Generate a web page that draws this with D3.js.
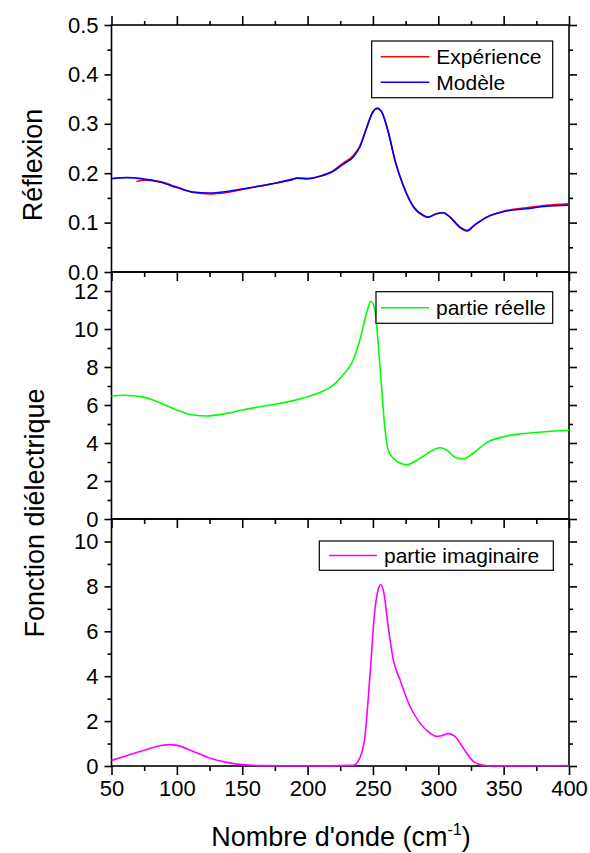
<!DOCTYPE html>
<html>
<head>
<meta charset="utf-8">
<script src="https://cdn.jsdelivr.net/npm/d3@7"></script>
<style>
  html, body { margin: 0; padding: 0; background: #fff; }
  svg { display: block; font-family: "Liberation Sans", Arial, sans-serif; }
</style>
</head>
<body>
<svg id="chart" width="590" height="853"></svg>
<script>
// Reflectivity: fitted model (cm^-1, R)
const reflModelWave = [50, 61.5, 75, 87, 100, 112.5, 125, 138, 150, 163.5, 176, 189, 191.6, 200, 209.5, 219.6, 227, 235, 240, 245, 250, 253.3, 256.6, 262, 266.8, 273, 281, 288.5, 292, 298.7, 303.8, 309, 316.6, 322, 327.6, 337, 349.7, 367.6, 383, 399.5];
const reflModel = [0.189, 0.191, 0.188, 0.182, 0.171, 0.162, 0.160, 0.163, 0.168, 0.174, 0.180, 0.188, 0.190, 0.189, 0.194, 0.204, 0.218, 0.233, 0.253, 0.290, 0.324, 0.331, 0.324, 0.280, 0.226, 0.176, 0.132, 0.115, 0.111, 0.118, 0.120, 0.111, 0.091, 0.084, 0.095, 0.111, 0.122, 0.128, 0.133, 0.135];

// Reflectivity: measured spectrum
const reflExpWave = [69, 75, 87, 100, 112.5, 125, 138, 150, 163.5, 176, 189, 191.6, 200, 209.5, 219.6, 227, 235, 240, 245, 250, 253.3, 256.6, 262, 266.8, 273, 281, 288.5, 292, 298.7, 303.8, 309, 316.6, 322, 327.6, 337, 349.7, 367.6, 383, 399.5];
const reflExp = [0.183, 0.186, 0.183, 0.172, 0.161, 0.158, 0.161, 0.167, 0.174, 0.180, 0.188, 0.190, 0.189, 0.194, 0.205, 0.220, 0.236, 0.255, 0.291, 0.325, 0.332, 0.325, 0.282, 0.228, 0.177, 0.132, 0.114, 0.111, 0.118, 0.120, 0.111, 0.090, 0.083, 0.094, 0.111, 0.123, 0.130, 0.135, 0.138];

// Dielectric function, real part
const epsRealWave = [50, 59, 75, 87, 100, 112.5, 122.7, 138, 150, 163.5, 176, 189, 200, 212, 219.6, 227, 233.7, 240, 245, 248.5, 251.5, 254, 256.6, 259, 261.7, 265.6, 275.8, 286, 293.6, 301.3, 306.4, 312.8, 319, 326.8, 337, 349.7, 367.6, 383, 400];
const epsReal = [6.47, 6.51, 6.40, 6.12, 5.74, 5.47, 5.42, 5.56, 5.74, 5.91, 6.05, 6.23, 6.44, 6.74, 7.05, 7.58, 8.19, 9.42, 10.8, 11.46, 11.0, 9.25, 6.96, 4.86, 3.63, 3.19, 2.86, 3.19, 3.54, 3.75, 3.63, 3.25, 3.16, 3.46, 4.02, 4.33, 4.51, 4.60, 4.67];

// Dielectric function, imaginary part
const epsImagWave = [50, 61.5, 75, 87, 94.6, 100, 112.5, 125, 138, 150, 163.5, 200, 235, 240, 243.9, 247.7, 251.5, 254, 256, 258.4, 261.7, 265.6, 270.7, 278.3, 286, 293.6, 298.7, 302.6, 307.7, 312.8, 319, 326.8, 334.4, 342, 400];
const epsImag = [0.25, 0.46, 0.70, 0.90, 0.95, 0.92, 0.65, 0.36, 0.16, 0.06, 0.015, 0.0, 0.03, 0.36, 1.32, 4.0, 6.96, 7.85, 8.07, 7.7, 6.2, 4.73, 3.84, 2.66, 1.91, 1.47, 1.32, 1.35, 1.44, 1.32, 0.8, 0.21, 0.03, 0.0, 0.02];

// Axis ticks
const xMajor = [50, 100, 150, 200, 250, 300, 350, 400];
const xMinor = [75, 125, 175, 225, 275, 325, 375];
const reflMajor = [0, 0.1, 0.2, 0.3, 0.4, 0.5];
const reflMinor = [0.05, 0.15, 0.25, 0.35, 0.45];
const realMajor = [0, 2, 4, 6, 8, 10, 12];
const realMinor = [1, 3, 5, 7, 9, 11];
const imagMajor = [0, 2, 4, 6, 8, 10];
const imagMinor = [1, 3, 5, 7, 9];

const svg = d3.select("#chart");
svg.append("rect").attr("width", 590).attr("height", 853).attr("fill", "#fff");

const left = 111.5, right = 569;
const x = d3.scaleLinear().domain([50, 400]).range([left, right]);

const panels = [
  { top: 25, bottom: 272, domain: [0, 0.5], major: reflMajor, minor: reflMinor, fmt: d3.format(".1f"), topTicks: true },
  { top: 272, bottom: 519, domain: [0, 13], major: realMajor, minor: realMinor, fmt: d3.format("d") },
  { top: 519, bottom: 766, domain: [0, 11], major: imagMajor, minor: imagMinor, fmt: d3.format("d"), xLabels: true }
];
panels.forEach(p => { p.y = d3.scaleLinear().domain(p.domain).range([p.bottom, p.top]); });

const tickFont = 22;

function styleAxis(g) {
  g.select(".domain").remove();
  g.selectAll(".tick line").attr("stroke", "#000").attr("stroke-width", 1.6);
  g.selectAll(".tick text").attr("fill", "#000").attr("font-size", tickFont)
    .attr("font-family", "Liberation Sans, Arial, sans-serif");
}

panels.forEach(p => {
  const g = svg.append("g");
  // left axis
  g.append("g").attr("transform", `translate(${left},0)`)
    .call(d3.axisLeft(p.y).tickValues(p.major).tickSize(7).tickPadding(6).tickFormat(p.fmt)).call(styleAxis);
  g.append("g").attr("transform", `translate(${left},0)`)
    .call(d3.axisLeft(p.y).tickValues(p.minor).tickSize(4).tickFormat("")).call(styleAxis);
  // right axis
  g.append("g").attr("transform", `translate(${right},0)`)
    .call(d3.axisRight(p.y).tickValues(p.major).tickSize(8).tickFormat("")).call(styleAxis);
  g.append("g").attr("transform", `translate(${right},0)`)
    .call(d3.axisRight(p.y).tickValues(p.minor).tickSize(4).tickFormat("")).call(styleAxis);
  // bottom axis
  g.append("g").attr("transform", `translate(0,${p.bottom})`)
    .call(d3.axisBottom(x).tickValues(xMajor).tickSize(9).tickPadding(5)
      .tickFormat(p.xLabels ? d3.format("d") : "")).call(styleAxis);
  g.append("g").attr("transform", `translate(0,${p.bottom})`)
    .call(d3.axisBottom(x).tickValues(xMinor).tickSize(5).tickFormat("")).call(styleAxis);
  if (p.topTicks) {
    g.append("g").attr("transform", `translate(0,${p.top})`)
      .call(d3.axisTop(x).tickValues(xMajor).tickSize(9).tickFormat("")).call(styleAxis);
    g.append("g").attr("transform", `translate(0,${p.top})`)
      .call(d3.axisTop(x).tickValues(xMinor).tickSize(4).tickFormat("")).call(styleAxis);
  }
  // frame
  g.append("rect").attr("x", left).attr("y", p.top)
    .attr("width", right - left).attr("height", p.bottom - p.top)
    .attr("fill", "none").attr("stroke", "#000").attr("stroke-width", 1.6);
});

// curves
function drawLine(waves, vals, yScale, color) {
  const line = d3.line().x((d, i) => x(waves[i])).y(d => yScale(d)).curve(d3.curveMonotoneX);
  svg.append("path").datum(vals).attr("d", line)
    .attr("fill", "none").attr("stroke", color).attr("stroke-width", 1.6)
    .attr("stroke-linejoin", "round");
}
drawLine(reflExpWave, reflExp, panels[0].y, "#ff0000");
drawLine(reflModelWave, reflModel, panels[0].y, "#0000ff");
drawLine(epsRealWave, epsReal, panels[1].y, "#00ff00");
drawLine(epsImagWave, epsImag, panels[2].y, "#ff00ff");

// legends
const legFont = 21;
function legend(box, items) {
  svg.append("rect").attr("x", box[0]).attr("y", box[1]).attr("width", box[2]).attr("height", box[3])
    .attr("fill", "#fff").attr("stroke", "#000").attr("stroke-width", 1.2);
  items.forEach(it => {
    svg.append("line").attr("x1", it.x1).attr("x2", it.x2).attr("y1", it.y).attr("y2", it.y)
      .attr("stroke", it.color).attr("stroke-width", 1.6);
    svg.append("text").attr("x", it.x2 + 7).attr("y", it.y).attr("dy", "0.36em")
      .attr("font-size", legFont).attr("fill", "#000").text(it.label);
  });
}
legend([371.7, 41, 181, 56.7], [
  { x1: 380.7, x2: 429.3, y: 56.7, color: "#ff0000", label: "Expérience" },
  { x1: 380.7, x2: 429.3, y: 82.3, color: "#0000ff", label: "Modèle" }
]);
legend([376, 291.7, 176.7, 31.6], [
  { x1: 381, x2: 429, y: 307.7, color: "#00ff00", label: "partie réelle" }
]);
legend([319.3, 541, 234, 29.3], [
  { x1: 329, x2: 377, y: 555.5, color: "#ff00ff", label: "partie imaginaire" }
]);

// axis titles
const titleFont = 27;
svg.append("text").attr("transform", "translate(42,165) rotate(-90)")
  .attr("text-anchor", "middle").attr("font-size", titleFont).attr("fill", "#000").text("Réflexion");
svg.append("text").attr("transform", "translate(44,513) rotate(-90)")
  .attr("text-anchor", "middle").attr("font-size", titleFont).attr("fill", "#000").text("Fonction diélectrique");
const xt = svg.append("text").attr("x", 341).attr("y", 846).attr("text-anchor", "middle")
  .attr("font-size", titleFont).attr("fill", "#000");
xt.append("tspan").text("Nombre d'onde (cm");
xt.append("tspan").attr("font-size", titleFont * 0.6).attr("dy", -11).text("-1");
xt.append("tspan").attr("dy", 11).text(")");
</script>
</body>
</html>
